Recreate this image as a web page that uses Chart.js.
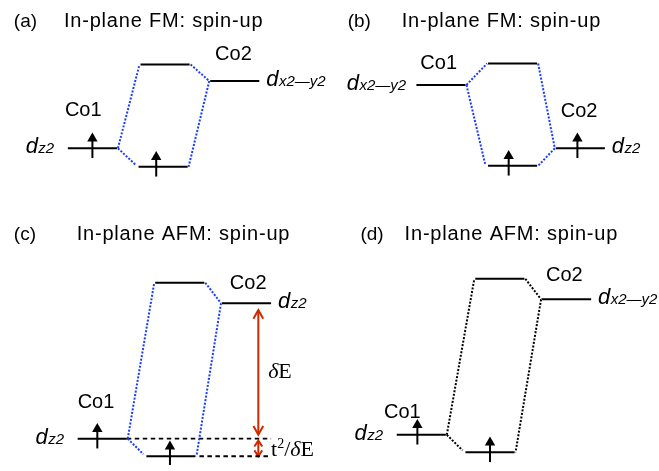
<!DOCTYPE html>
<html>
<head>
<meta charset="utf-8">
<script src="https://cdn.jsdelivr.net/npm/chart.js@4"></script>
<style>
  html, body { margin: 0; padding: 0; background: #fff; }
  #chart { display: block; }
</style>
</head>
<body>
<canvas id="chart" width="659" height="471"></canvas>
<script>
// panels a, b, c, d
const panelTags = ['(a)', '(b)', '(c)', '(d)'];
const panelTitles = ['In-plane FM: spin-up', 'In-plane FM: spin-up', 'In-plane AFM: spin-up', 'In-plane AFM: spin-up'];

// energy levels (x = where the level starts, energy = level height, downwards)
const leftStart = [63, 418, 73, 398];
const leftEnergy = [146, 81, 444, 440];
const bondStart = [135, 491, 143, 468];
const bondEnergy = [165, 164, 462, 458];
const antiStart = [137, 491, 152, 478];
const antiEnergy = [60, 59, 284, 280];
const rightStart = [208, 560, 220, 546];
const rightEnergy = [77, 146, 305, 301];
const levelWidth = 50;

const leftOrbital = ['z2', 'x2—y2', 'z2', 'z2'];
const rightOrbital = ['x2—y2', 'z2', 'z2', 'x2—y2'];

// spin-up electrons
const spinX = [88, 153, 512, 582, 93, 167, 419, 493];
const spinEnergy = [146, 165, 164, 146, 444, 462, 440, 458];

// site labels
const co1X = [60, 422, 73, 385];
const co1Y = [113, 65, 413, 423];
const co2X = [213, 565, 228, 550];
const co2Y = [55, 114, 290, 282];

// panel (c) splitting
const splitX = 257;

const blue = '#1a3cff';
const red = '#cc2a00';

const datasets = [];

function seg(points, color, width, dash) {
  datasets.push({
    data: points.map(p => ({ x: p[0], y: p[1] })),
    showLine: true,
    borderColor: color,
    borderWidth: width,
    borderDash: dash || [],
    pointRadius: 0,
    fill: false
  });
}

for (let i = 0; i < 4; i++) {
  const dots = i === 3 ? '#000' : blue;
  const lE = leftStart[i] + levelWidth;
  const bE = bondStart[i] + levelWidth;
  const aE = antiStart[i] + levelWidth;
  seg([[leftStart[i], leftEnergy[i]], [lE, leftEnergy[i]]], '#000', 2);
  seg([[bondStart[i], bondEnergy[i]], [bE, bondEnergy[i]]], '#000', 2);
  seg([[antiStart[i], antiEnergy[i]], [aE, antiEnergy[i]]], '#000', 2);
  seg([[rightStart[i], rightEnergy[i]], [rightStart[i] + levelWidth, rightEnergy[i]]], '#000', 2);

  seg([[lE + 1, leftEnergy[i]], [antiStart[i] - 1, antiEnergy[i]]], dots, 2, [2, 1.6]);
  seg([[lE + 1, leftEnergy[i]], [bondStart[i] - 3, bondEnergy[i] - 2]], dots, 2, [2, 1.6]);
  seg([[aE + 1, antiEnergy[i]], [rightStart[i] - 1, rightEnergy[i]]], dots, 2, [2, 1.6]);
  seg([[rightStart[i] - 1, rightEnergy[i]], [bE + 1, bondEnergy[i]]], dots, 2, [2, 1.6]);
}

// spin arrows
spinX.forEach((x, k) => {
  datasets.push({
    data: [{ x: x, y: spinEnergy[k] + 10 }, { x: x, y: spinEnergy[k] - 10 }],
    showLine: true,
    borderColor: '#000',
    borderWidth: 2,
    pointStyle: 'triangle',
    pointRadius: [0, 6],
    pointBorderWidth: 0,
    pointBackgroundColor: '#000',
    pointBorderColor: '#000'
  });
});

// panel (c): dashed reference lines and the red double arrows
seg([[leftStart[2] + levelWidth, leftEnergy[2]], [270, leftEnergy[2]]], '#000', 1.8, [4.5, 3.5]);
seg([[bondStart[2] + levelWidth + 4, bondEnergy[2]], [267, bondEnergy[2]]], '#000', 1.8, [4.5, 3.5]);

function doubleArrow(x, y1, y2, head, half) {
  seg([[x, y1], [x, y2]], red, 2);
  seg([[x - half, y1 + head], [x, y1], [x + half, y1 + head]], red, 2);
  seg([[x - half, y2 - head], [x, y2], [x + half, y2 - head]], red, 2);
}
doubleArrow(splitX, rightEnergy[2] + 7, leftEnergy[2] - 4, 9, 5);
doubleArrow(splitX, leftEnergy[2] + 2, bondEnergy[2], 6, 4);

const sans = '"Liberation Sans", Arial, Helvetica, sans-serif';
const serif = '"Liberation Serif", "Times New Roman", serif';

function text(ctx, str, x, y, font, spacing) {
  ctx.font = font;
  ctx.letterSpacing = (spacing || 0) + 'px';
  ctx.fillText(str, x, y);
  const w = ctx.measureText(str).width;
  ctx.letterSpacing = '0px';
  return w;
}

function orbital(ctx, sub, x, y) {
  const w = text(ctx, 'd', x, y, 'italic 22px ' + sans);
  text(ctx, sub, x + w + 0.5, y, 'italic 15px ' + sans);
}

const labelsPlugin = {
  id: 'labels',
  afterDatasetsDraw(chart) {
    const ctx = chart.ctx;
    const sx = v => chart.scales.x.getPixelForValue(v);
    const sy = v => chart.scales.y.getPixelForValue(v);
    ctx.save();
    ctx.fillStyle = '#000';
    ctx.textBaseline = 'alphabetic';
    ctx.textAlign = 'left';
    const tagX = [8, 348, 8, 361];
    const titleX = [59, 403, 72, 406];
    const rowY = [22, 22, 240, 240];
    for (let i = 0; i < 4; i++) {
      text(ctx, panelTags[i], sx(tagX[i]), sy(rowY[i]), '19px ' + sans);
      text(ctx, panelTitles[i], sx(titleX[i]), sy(rowY[i]), '20px ' + sans, 0.8);
      text(ctx, 'Co1', sx(co1X[i]), sy(co1Y[i]), '20px ' + sans);
      text(ctx, 'Co2', sx(co2X[i]), sy(co2Y[i]), '20px ' + sans);
      const lw = leftOrbital[i] === 'z2' ? 32 : 60;
      orbital(ctx, leftOrbital[i], sx(leftStart[i] - lw - 11), sy(leftEnergy[i] + 5));
      orbital(ctx, rightOrbital[i], sx(rightStart[i] + levelWidth + 7), sy(rightEnergy[i] + 5));
    }
    // delta E labels in panel (c)
    let x = sx(splitX + 10);
    let y = sy(382);
    x += text(ctx, 'δ', x, y, 'italic 22px ' + serif);
    text(ctx, 'E', x, y, '22px ' + serif);
    x = sx(splitX + 13);
    y = sy(462);
    x += text(ctx, 't', x, y, '22px ' + serif);
    x += text(ctx, '2', x, y - 8, '14px ' + serif);
    x += text(ctx, '/', x, y, '22px ' + serif);
    x += text(ctx, 'δ', x, y, 'italic 22px ' + serif);
    text(ctx, 'E', x, y, '22px ' + serif);
    ctx.restore();
  }
};

new Chart(document.getElementById('chart'), {
  type: 'scatter',
  data: { datasets: datasets },
  options: {
    responsive: false,
    animation: false,
    layout: { padding: 0 },
    scales: {
      x: { type: 'linear', min: 0, max: 659, display: false },
      y: { type: 'linear', min: 0, max: 471, reverse: true, display: false }
    },
    plugins: { legend: { display: false }, tooltip: { enabled: false } }
  },
  plugins: [labelsPlugin]
});
</script>
</body>
</html>
